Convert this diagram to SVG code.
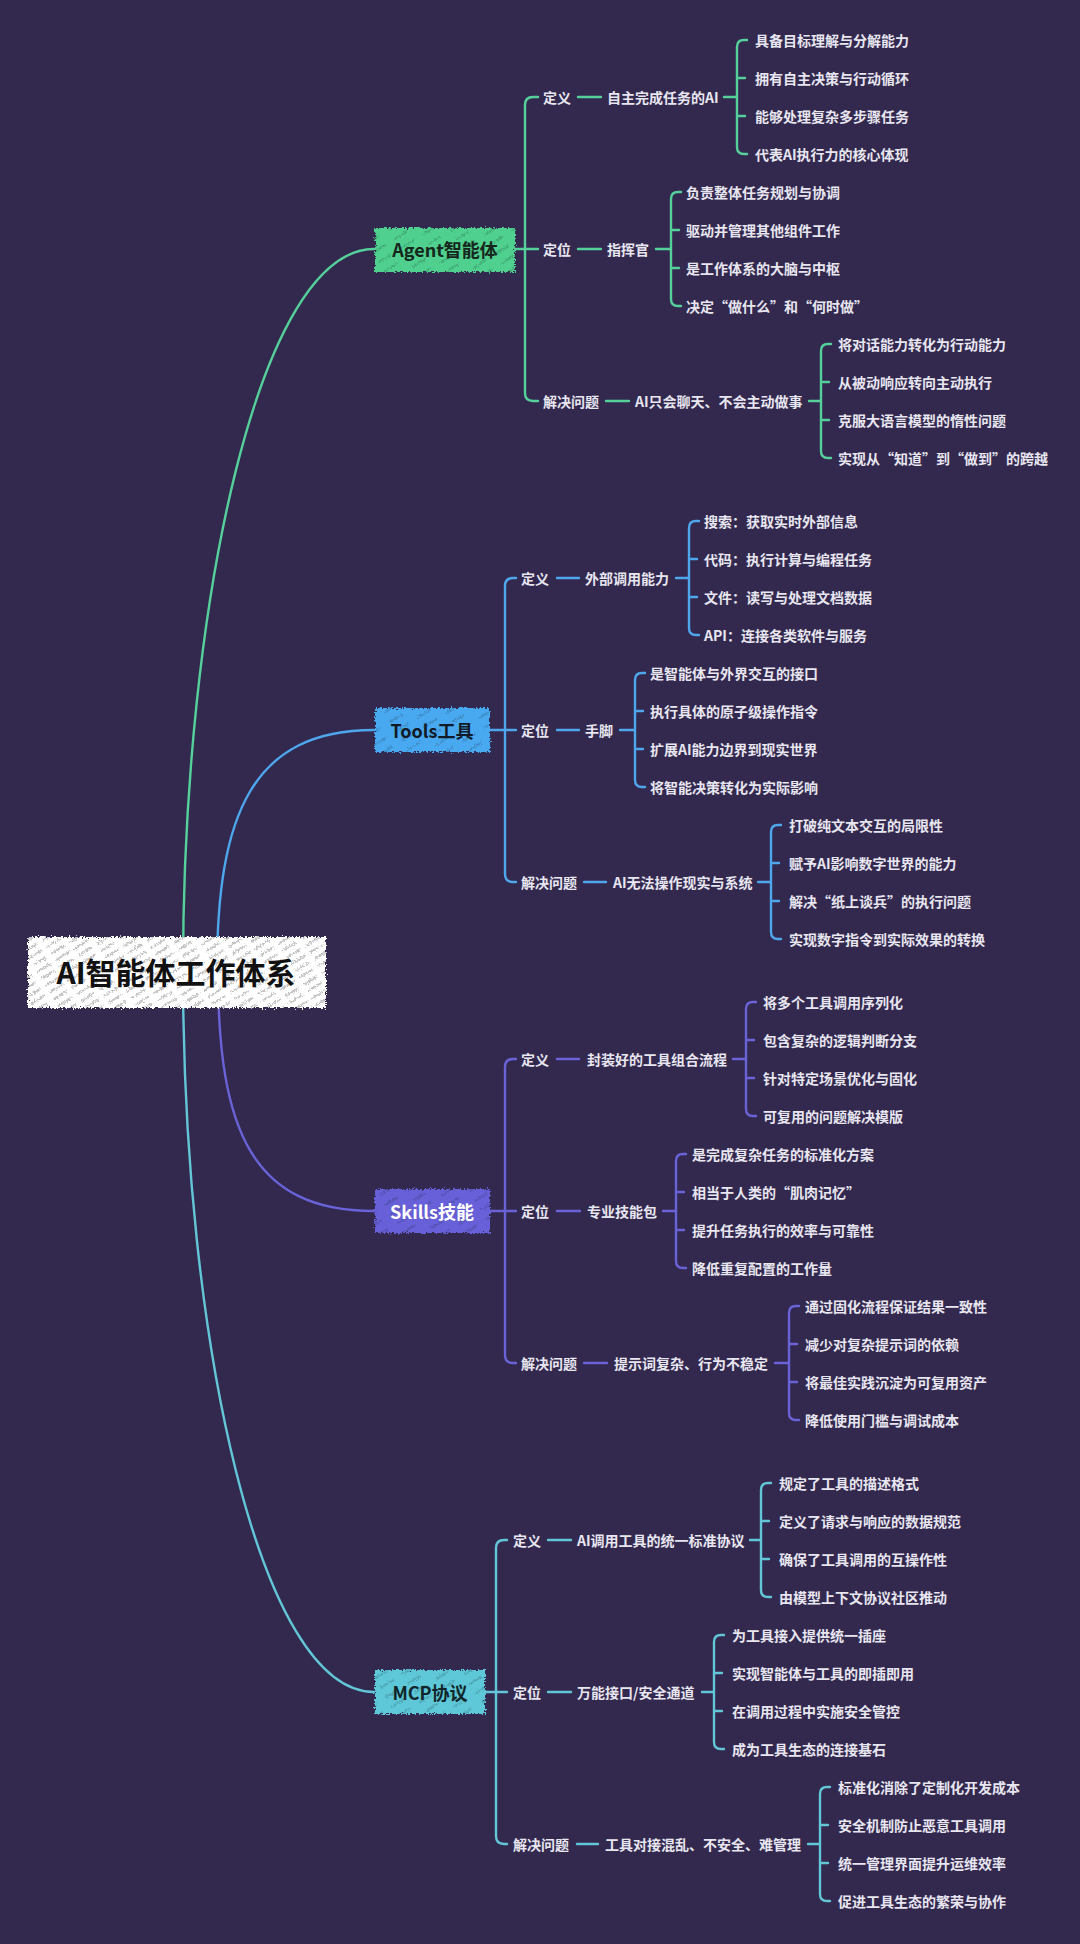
<svg xmlns="http://www.w3.org/2000/svg" width="1080" height="1944" viewBox="0 0 1080 1944">
<defs>
<style>
.t{font-family:"Noto Sans CJK SC","Noto Sans",sans-serif;font-weight:700;font-size:14px;fill:#e8e6f0;dominant-baseline:central}
.h{font-family:"Noto Sans CJK SC","Noto Sans",sans-serif;font-weight:700;font-size:18px;dominant-baseline:central;text-anchor:middle}
.r{font-family:"Noto Sans CJK SC","Noto Sans",sans-serif;font-weight:700;font-size:30px;fill:#111;dominant-baseline:central;text-anchor:middle}
.c{fill:none;stroke-width:2.4;stroke-linecap:round;stroke-linejoin:round}
.ag{stroke:#55d09b}.to{stroke:#4ea6ec}.sk{stroke:#6a63d8}.mc{stroke:#62c6d6}
</style>
<filter id="rough" x="-6%" y="-20%" width="112%" height="140%">
<feTurbulence type="fractalNoise" baseFrequency="0.55" numOctaves="2" seed="4" result="n"/>
<feDisplacementMap in="SourceGraphic" in2="n" scale="6" xChannelSelector="R" yChannelSelector="G"/>
</filter>
<pattern id="hatchDark" width="26" height="11" patternUnits="userSpaceOnUse" patternTransform="rotate(-32)">
<line x1="0" y1="5" x2="15" y2="5" stroke="#000" stroke-opacity="0.35" stroke-width="0.9"/>
</pattern>
<pattern id="hatchRoot" width="22" height="8" patternUnits="userSpaceOnUse" patternTransform="rotate(-32)">
<line x1="0" y1="4" x2="16" y2="4" stroke="#444" stroke-opacity="0.8" stroke-width="0.8"/>
</pattern>
</defs>
<rect width="1080" height="1944" fill="#33294f"/>

<g id="connectors">
<!-- root to main branches -->
<path class="c ag" d="M183,971 C183,600 260,249 374,249"/>
<path class="c to" d="M217,971 C217,815 252,730 374,730"/>
<path class="c sk" d="M218,971 C218,1130 252,1211 374,1211"/>
<path class="c mc" d="M183,971 C183,1341 260,1692 374,1692"/>

<!-- Agent -->
<path class="c ag" d="M538,97 H533 Q525,97 525,105 V393 Q525,401 533,401 H538 M515,249 H538"/>
<path class="c ag" d="M578,97 H601 M724,97 H737 M747,40 H744 Q737,40 737,47 V147 Q737,154 744,154 H747 M737,78 H745 M737,116 H745"/>
<path class="c ag" d="M578,249 H601 M656,249 H671 M681,192 H678 Q671,192 671,199 V299 Q671,306 678,306 H681 M671,230 H679 M671,268 H679"/>
<path class="c ag" d="M606,401 H629 M809,401 H821 M831,344 H828 Q821,344 821,351 V451 Q821,458 828,458 H831 M821,382 H829 M821,420 H829"/>

<!-- Tools -->
<path class="c to" d="M516,578 H513 Q505,578 505,586 V874 Q505,882 513,882 H516 M490,730 H516"/>
<path class="c to" d="M557,578 H579 M676,578 H689 M699,521 H696 Q689,521 689,528 V628 Q689,635 696,635 H699 M689,559 H697 M689,597 H697"/>
<path class="c to" d="M557,730 H579 M620,730 H635 M645,673 H642 Q635,673 635,680 V780 Q635,787 642,787 H645 M635,711 H643 M635,749 H643"/>
<path class="c to" d="M584,882 H606 M758,882 H771 M781,825 H778 Q771,825 771,832 V932 Q771,939 778,939 H781 M771,863 H779 M771,901 H779"/>

<!-- Skills -->
<path class="c sk" d="M516,1059 H513 Q505,1059 505,1067 V1355 Q505,1363 513,1363 H516 M490,1211 H516"/>
<path class="c sk" d="M557,1059 H579 M733,1059 H746 M756,1002 H753 Q746,1002 746,1009 V1109 Q746,1116 753,1116 H756 M746,1040 H754 M746,1078 H754"/>
<path class="c sk" d="M557,1211 H580 M663,1211 H676 M686,1154 H683 Q676,1154 676,1161 V1261 Q676,1268 683,1268 H686 M676,1192 H684 M676,1230 H684"/>
<path class="c sk" d="M584,1363 H607 M775,1363 H789 M799,1306 H796 Q789,1306 789,1313 V1413 Q789,1420 796,1420 H799 M789,1344 H797 M789,1382 H797"/>

<!-- MCP -->
<path class="c mc" d="M507,1540 H504 Q496,1540 496,1548 V1836 Q496,1844 504,1844 H507 M485,1692 H507"/>
<path class="c mc" d="M548,1540 H571 M750,1540 H761 M771,1483 H768 Q761,1483 761,1490 V1590 Q761,1597 768,1597 H771 M761,1521 H769 M761,1559 H769"/>
<path class="c mc" d="M548,1692 H571 M702,1692 H714 M724,1635 H721 Q714,1635 714,1642 V1742 Q714,1749 721,1749 H724 M714,1673 H722 M714,1711 H722"/>
<path class="c mc" d="M577,1844 H598 M808,1844 H820 M830,1787 H827 Q820,1787 820,1794 V1894 Q820,1901 827,1901 H830 M820,1825 H828 M820,1863 H828"/>
</g>

<g id="root">
<g filter="url(#rough)"><rect x="28" y="937" width="298" height="71" fill="#ffffff"/><rect x="28" y="937" width="298" height="71" fill="url(#hatchRoot)"/></g>
<text class="r" x="176" y="971">AI智能体工作体系</text>
</g>

<g id="agent">
<g filter="url(#rough)"><rect x="375" y="228" width="140" height="44" fill="#4fd08f"/><rect x="375" y="228" width="140" height="44" fill="url(#hatchDark)"/></g>
<text class="h" x="445" y="249" fill="#16261c">Agent智能体</text>
</g>
<g id="tools">
<g filter="url(#rough)"><rect x="375" y="708" width="115" height="44" fill="#4aa9f0"/><rect x="375" y="708" width="115" height="44" fill="url(#hatchDark)"/></g>
<text class="h" x="432" y="730" fill="#111a26">Tools工具</text>
</g>
<g id="skills">
<g filter="url(#rough)"><rect x="375" y="1189" width="115" height="44" fill="#6761d8"/><rect x="375" y="1189" width="115" height="44" fill="url(#hatchDark)"/></g>
<text class="h" x="432" y="1211" fill="#ffffff">Skills技能</text>
</g>
<g id="mcp">
<g filter="url(#rough)"><rect x="375" y="1670" width="110" height="44" fill="#5fc8d8"/><rect x="375" y="1670" width="110" height="44" fill="url(#hatchDark)"/></g>
<text class="h" x="430" y="1692" fill="#10262a">MCP协议</text>
</g>

<g id="agent-def"><text class="t" x="543" y="97">定义</text></g>
<g id="agent-def-c"><text class="t" x="607" y="97">自主完成任务的AI</text></g>
<g id="agent-def-1"><text class="t" x="755" y="40">具备目标理解与分解能力</text></g>
<g id="agent-def-2"><text class="t" x="755" y="78">拥有自主决策与行动循环</text></g>
<g id="agent-def-3"><text class="t" x="755" y="116">能够处理复杂多步骤任务</text></g>
<g id="agent-def-4"><text class="t" x="755" y="154">代表AI执行力的核心体现</text></g>
<g id="agent-pos"><text class="t" x="543" y="249">定位</text></g>
<g id="agent-pos-c"><text class="t" x="607" y="249">指挥官</text></g>
<g id="agent-pos-1"><text class="t" x="686" y="192">负责整体任务规划与协调</text></g>
<g id="agent-pos-2"><text class="t" x="686" y="230">驱动并管理其他组件工作</text></g>
<g id="agent-pos-3"><text class="t" x="686" y="268">是工作体系的大脑与中枢</text></g>
<g id="agent-pos-4"><text class="t" x="686" y="306">决定“做什么”和“何时做”</text></g>
<g id="agent-sol"><text class="t" x="543" y="401">解决问题</text></g>
<g id="agent-sol-c"><text class="t" x="635" y="401">AI只会聊天、不会主动做事</text></g>
<g id="agent-sol-1"><text class="t" x="838" y="344">将对话能力转化为行动能力</text></g>
<g id="agent-sol-2"><text class="t" x="838" y="382">从被动响应转向主动执行</text></g>
<g id="agent-sol-3"><text class="t" x="838" y="420">克服大语言模型的惰性问题</text></g>
<g id="agent-sol-4"><text class="t" x="838" y="458">实现从“知道”到“做到”的跨越</text></g>

<g id="tools-def"><text class="t" x="521" y="578">定义</text></g>
<g id="tools-def-c"><text class="t" x="585" y="578">外部调用能力</text></g>
<g id="tools-def-1"><text class="t" x="704" y="521">搜索：获取实时外部信息</text></g>
<g id="tools-def-2"><text class="t" x="704" y="559">代码：执行计算与编程任务</text></g>
<g id="tools-def-3"><text class="t" x="704" y="597">文件：读写与处理文档数据</text></g>
<g id="tools-def-4"><text class="t" x="704" y="635">API：连接各类软件与服务</text></g>
<g id="tools-pos"><text class="t" x="521" y="730">定位</text></g>
<g id="tools-pos-c"><text class="t" x="585" y="730">手脚</text></g>
<g id="tools-pos-1"><text class="t" x="650" y="673">是智能体与外界交互的接口</text></g>
<g id="tools-pos-2"><text class="t" x="650" y="711">执行具体的原子级操作指令</text></g>
<g id="tools-pos-3"><text class="t" x="650" y="749">扩展AI能力边界到现实世界</text></g>
<g id="tools-pos-4"><text class="t" x="650" y="787">将智能决策转化为实际影响</text></g>
<g id="tools-sol"><text class="t" x="521" y="882">解决问题</text></g>
<g id="tools-sol-c"><text class="t" x="613" y="882">AI无法操作现实与系统</text></g>
<g id="tools-sol-1"><text class="t" x="789" y="825">打破纯文本交互的局限性</text></g>
<g id="tools-sol-2"><text class="t" x="789" y="863">赋予AI影响数字世界的能力</text></g>
<g id="tools-sol-3"><text class="t" x="789" y="901">解决“纸上谈兵”的执行问题</text></g>
<g id="tools-sol-4"><text class="t" x="789" y="939">实现数字指令到实际效果的转换</text></g>

<g id="skills-def"><text class="t" x="521" y="1059">定义</text></g>
<g id="skills-def-c"><text class="t" x="587" y="1059">封装好的工具组合流程</text></g>
<g id="skills-def-1"><text class="t" x="763" y="1002">将多个工具调用序列化</text></g>
<g id="skills-def-2"><text class="t" x="763" y="1040">包含复杂的逻辑判断分支</text></g>
<g id="skills-def-3"><text class="t" x="763" y="1078">针对特定场景优化与固化</text></g>
<g id="skills-def-4"><text class="t" x="763" y="1116">可复用的问题解决模版</text></g>
<g id="skills-pos"><text class="t" x="521" y="1211">定位</text></g>
<g id="skills-pos-c"><text class="t" x="587" y="1211">专业技能包</text></g>
<g id="skills-pos-1"><text class="t" x="692" y="1154">是完成复杂任务的标准化方案</text></g>
<g id="skills-pos-2"><text class="t" x="692" y="1192">相当于人类的“肌肉记忆”</text></g>
<g id="skills-pos-3"><text class="t" x="692" y="1230">提升任务执行的效率与可靠性</text></g>
<g id="skills-pos-4"><text class="t" x="692" y="1268">降低重复配置的工作量</text></g>
<g id="skills-sol"><text class="t" x="521" y="1363">解决问题</text></g>
<g id="skills-sol-c"><text class="t" x="614" y="1363">提示词复杂、行为不稳定</text></g>
<g id="skills-sol-1"><text class="t" x="805" y="1306">通过固化流程保证结果一致性</text></g>
<g id="skills-sol-2"><text class="t" x="805" y="1344">减少对复杂提示词的依赖</text></g>
<g id="skills-sol-3"><text class="t" x="805" y="1382">将最佳实践沉淀为可复用资产</text></g>
<g id="skills-sol-4"><text class="t" x="805" y="1420">降低使用门槛与调试成本</text></g>

<g id="mcp-def"><text class="t" x="513" y="1540">定义</text></g>
<g id="mcp-def-c"><text class="t" x="577" y="1540">AI调用工具的统一标准协议</text></g>
<g id="mcp-def-1"><text class="t" x="779" y="1483">规定了工具的描述格式</text></g>
<g id="mcp-def-2"><text class="t" x="779" y="1521">定义了请求与响应的数据规范</text></g>
<g id="mcp-def-3"><text class="t" x="779" y="1559">确保了工具调用的互操作性</text></g>
<g id="mcp-def-4"><text class="t" x="779" y="1597">由模型上下文协议社区推动</text></g>
<g id="mcp-pos"><text class="t" x="513" y="1692">定位</text></g>
<g id="mcp-pos-c"><text class="t" x="577" y="1692">万能接口/安全通道</text></g>
<g id="mcp-pos-1"><text class="t" x="732" y="1635">为工具接入提供统一插座</text></g>
<g id="mcp-pos-2"><text class="t" x="732" y="1673">实现智能体与工具的即插即用</text></g>
<g id="mcp-pos-3"><text class="t" x="732" y="1711">在调用过程中实施安全管控</text></g>
<g id="mcp-pos-4"><text class="t" x="732" y="1749">成为工具生态的连接基石</text></g>
<g id="mcp-sol"><text class="t" x="513" y="1844">解决问题</text></g>
<g id="mcp-sol-c"><text class="t" x="605" y="1844">工具对接混乱、不安全、难管理</text></g>
<g id="mcp-sol-1"><text class="t" x="838" y="1787">标准化消除了定制化开发成本</text></g>
<g id="mcp-sol-2"><text class="t" x="838" y="1825">安全机制防止恶意工具调用</text></g>
<g id="mcp-sol-3"><text class="t" x="838" y="1863">统一管理界面提升运维效率</text></g>
<g id="mcp-sol-4"><text class="t" x="838" y="1901">促进工具生态的繁荣与协作</text></g>
</svg>
